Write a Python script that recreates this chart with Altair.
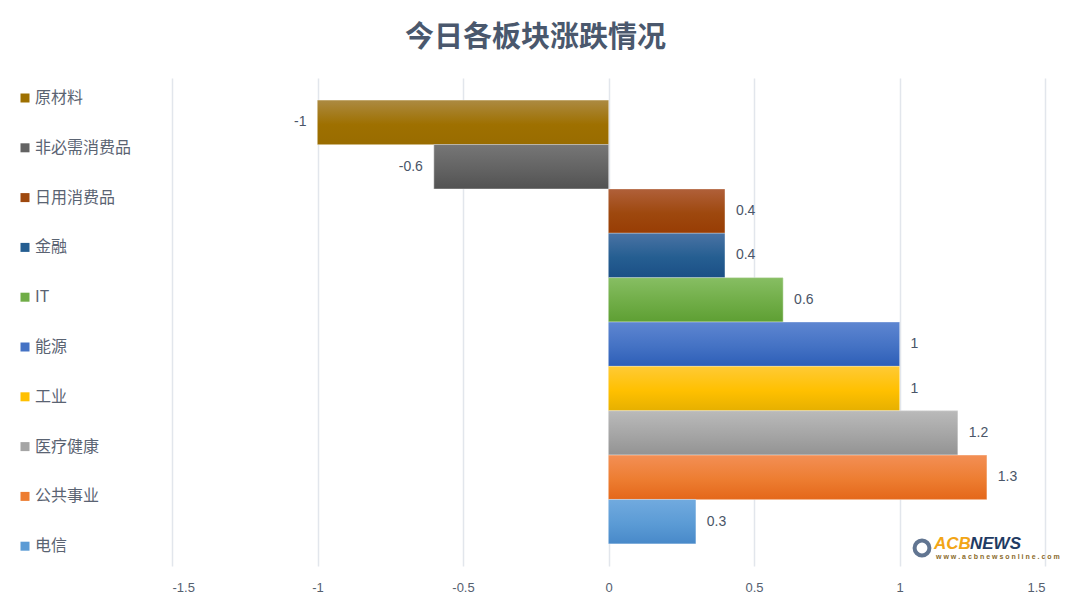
import altair as alt
import pandas as pd

categories = ["原材料", "非必需消费品", "日用消费品", "金融", "IT", "能源", "工业", "医疗健康", "公共事业", "电信"]
values = [-1, -0.6, 0.4, 0.4, 0.6, 1, 1, 1.2, 1.3, 0.3]
base_colors = ["#9E7000", "#636363", "#9E480E", "#255E91", "#70AD47", "#4472C4", "#FFC000", "#A5A5A5", "#ED7D31", "#5B9BD5"]
top_colors = ["#AC8A42", "#767676", "#B0603A", "#4A73A4", "#87BE63", "#5E86D1", "#FFCA35", "#BABABA", "#F38F55", "#71AADF"]
bottom_colors = ["#996C00", "#525252", "#983D04", "#1B4F86", "#5E9F33", "#2D5EB7", "#E6B000", "#939393", "#E4671A", "#4889C9"]
tick_values = [-1.5, -1, -0.5, 0, 0.5, 1, 1.5]

df = pd.DataFrame({"cat": categories, "val": values, "label": [f"{v:g}" for v in values]})

FONT = "Noto Sans CJK SC"
TEXT_COLOR = "#4A5568"

x_enc = alt.X(
    "val:Q",
    scale=alt.Scale(domain=[-1.5, 1.5], nice=False, zero=False),
    axis=alt.Axis(
        values=tick_values, labelExpr="'' + datum.value", title=None, domain=False, ticks=False,
        labelPadding=15, labelFontSize=13, labelColor="#55606F", labelFont="Liberation Sans",
        gridColor="#E2E6EC", gridWidth=1.5,
    ),
)
y_enc = alt.Y("cat:N", sort=categories, axis=None,
              scale=alt.Scale(paddingInner=0, paddingOuter=0.5))

base = alt.Chart(df)

legend_layer = base.mark_bar().encode(
    x=x_enc, y=y_enc,
    color=alt.Color(
        "cat:N",
        scale=alt.Scale(domain=categories, range=base_colors),
        legend=alt.Legend(
            orient="none", legendX=-155, legendY=12, title=None, direction="vertical",
            symbolType="square", symbolSize=81, symbolStrokeWidth=0, symbolOpacity=1,
            labelFontSize=16, labelColor="#5A6372", labelFont=FONT, labelOffset=2,
            rowPadding=33.8,
        ),
    ),
)

layers = [legend_layer]
for c, t, b, m in zip(categories, top_colors, bottom_colors, base_colors):
    grad = alt.Gradient(
        gradient="linear",
        stops=[alt.GradientStop(color=t, offset=0),
               alt.GradientStop(color=m, offset=0.55),
               alt.GradientStop(color=b, offset=1)],
        x1=0, x2=0, y1=0, y2=1,
    )
    layers.append(
        base.transform_filter(alt.datum.cat == c)
        .mark_bar(color=grad, stroke="#FFFFFF", strokeOpacity=0.35, strokeWidth=1)
        .encode(x=x_enc, y=y_enc)
    )

neg_labels = base.transform_filter(alt.datum.val < 0).mark_text(
    align="right", baseline="middle", dx=-11, fontSize=14, color=TEXT_COLOR, font="Liberation Sans"
).encode(x=x_enc, y=y_enc, text="label:N")

pos_labels = base.transform_filter(alt.datum.val >= 0).mark_text(
    align="left", baseline="middle", dx=11, fontSize=14, color=TEXT_COLOR, font="Liberation Sans"
).encode(x=x_enc, y=y_enc, text="label:N")

layers += [neg_labels, pos_labels]

# watermark
wm = pd.DataFrame({"a": [1]})
wm_circle = alt.Chart(wm).mark_point(filled=False, stroke="#1F3B63", strokeWidth=4, size=220).encode(
    x=alt.value(750), y=alt.value(470))
wm_acb = alt.Chart(wm).mark_text(align="left", baseline="middle", fontSize=17, fontWeight="bold",
                                 fontStyle="italic", color="#F2A516", font="Liberation Sans").encode(
    x=alt.value(762), y=alt.value(466), text=alt.value("ACB"))
wm_news = alt.Chart(wm).mark_text(align="left", baseline="middle", fontSize=17, fontWeight="bold",
                                  fontStyle="italic", color="#1F3B63", font="Liberation Sans").encode(
    x=alt.value(798), y=alt.value(466), text=alt.value("NEWS"))
wm_url = alt.Chart(wm).mark_text(align="left", baseline="middle", fontSize=7, fontWeight="bold",
                                 color="#8A6A2A", font="Liberation Sans").encode(
    x=alt.value(764), y=alt.value(479), text=alt.value("w w w . a c b n e w s o n l i n e . c o m"))
layers += [wm_circle, wm_acb, wm_news, wm_url]

chart = alt.layer(*layers).properties(
    width=873, height=488,
    title=alt.TitleParams(
        "今日各板块涨跌情况", anchor="start", frame="group", dx=233, offset=25,
        fontSize=29, font=FONT, fontWeight="bold", color="#4A586D",
    ),
    autosize=alt.AutoSizeParams(type="none"),
    padding={"left": 164, "top": 70, "right": 24, "bottom": 36},
).configure(background="#FFFFFF", view=alt.ViewConfig(stroke=None))

chart.save("out.html", embed_options={"renderer": "svg", "actions": False})
